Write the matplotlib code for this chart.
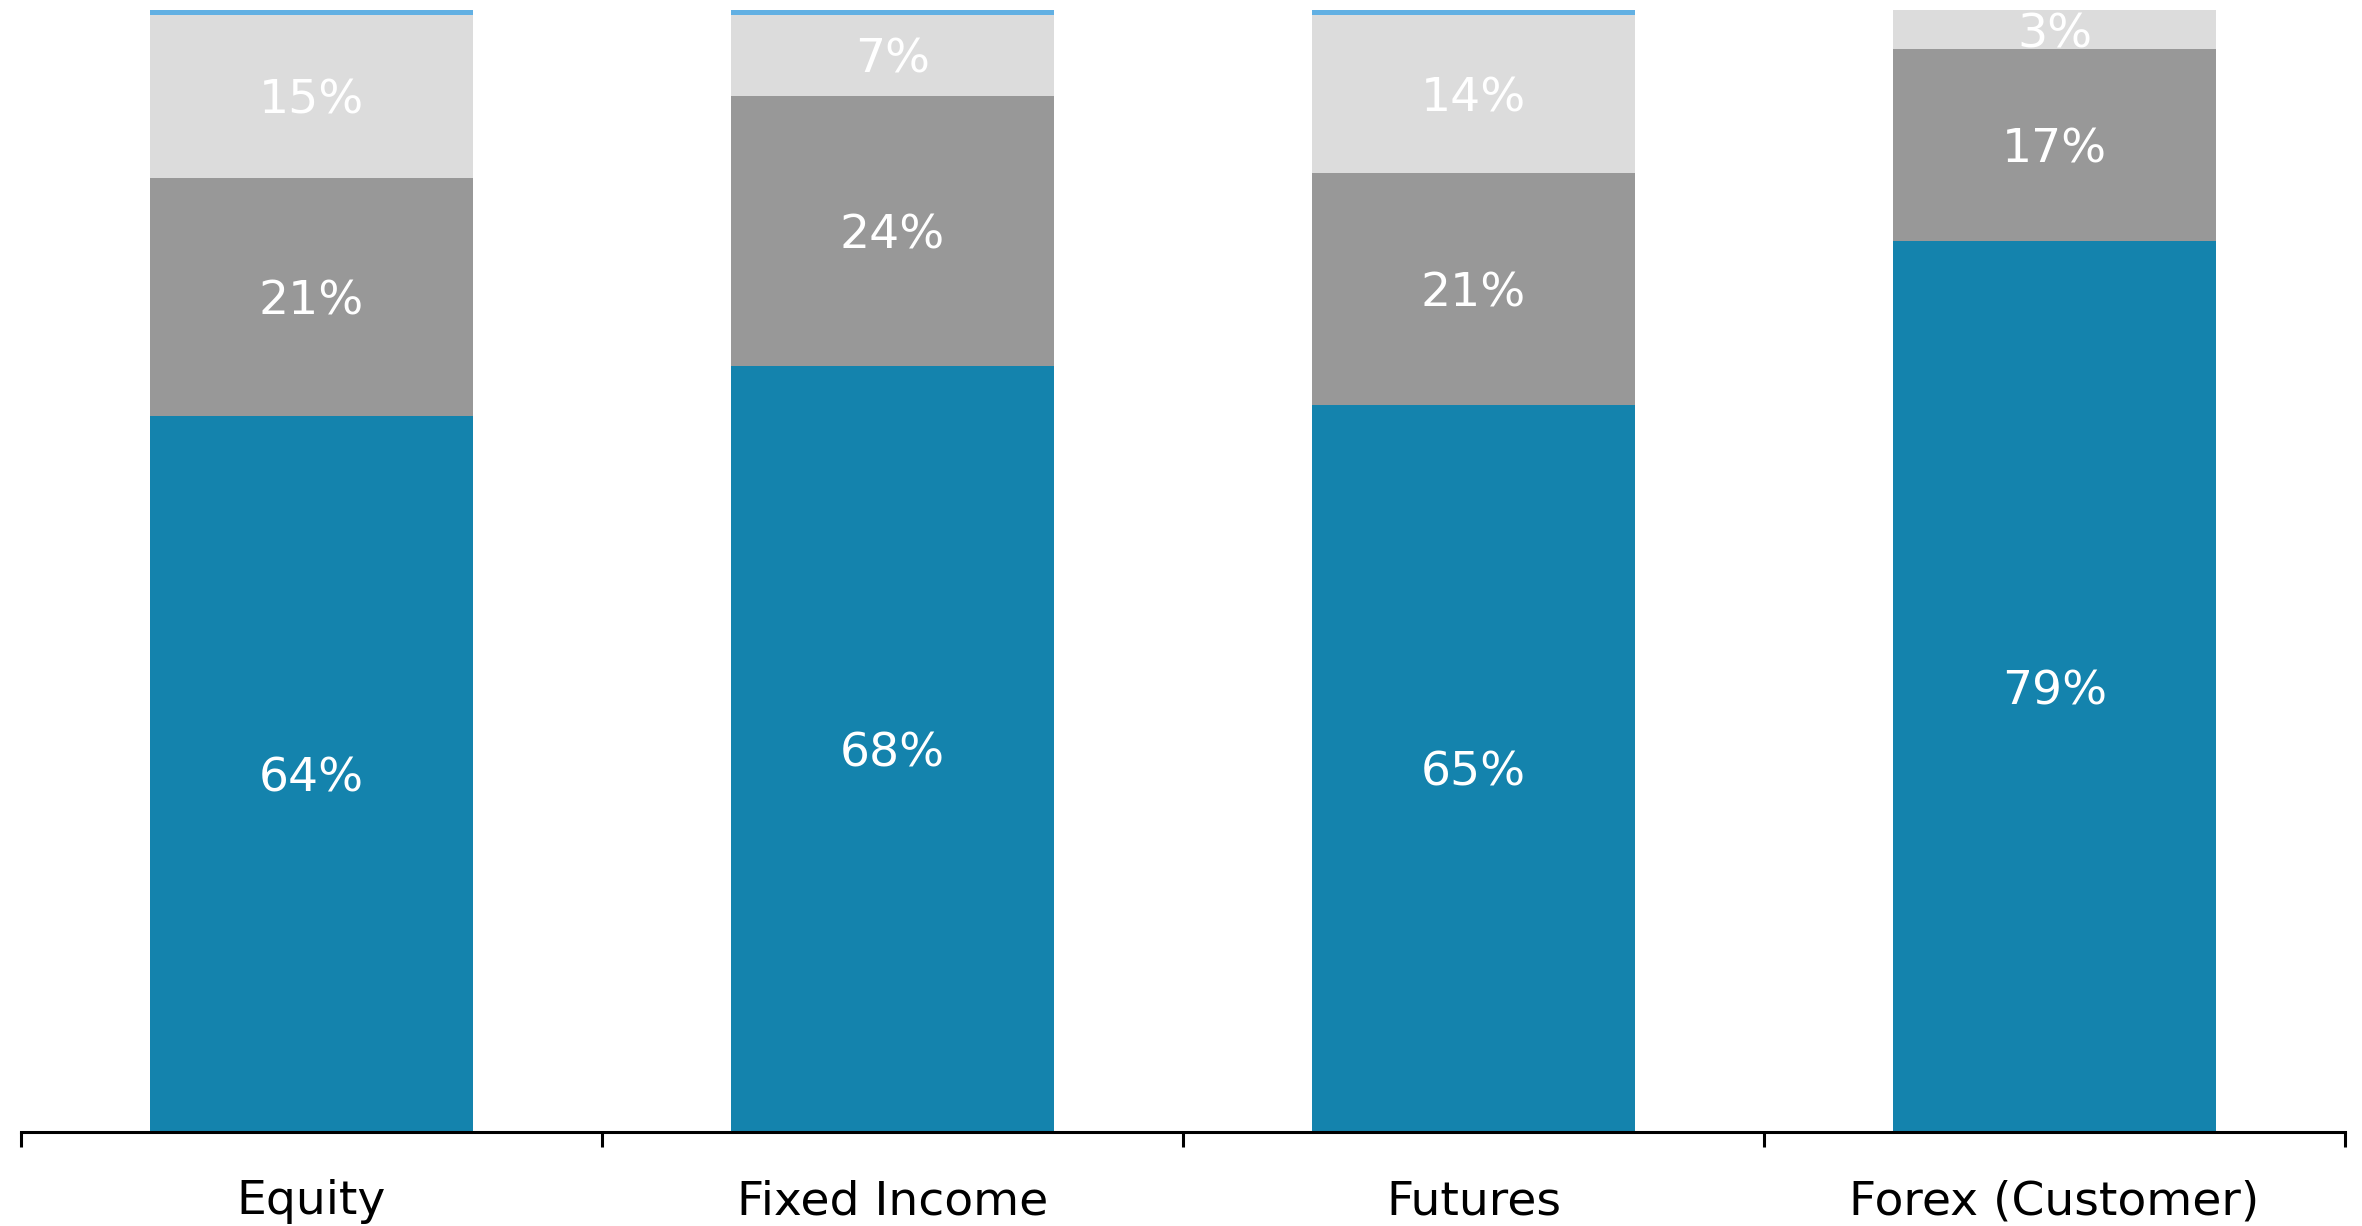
import numpy as np
import matplotlib
matplotlib.use("Agg")
import matplotlib.pyplot as plt

# share of volume per asset class
categories = ["Equity", "Fixed Income", "Futures", "Forex (Customer)"]
seg1 = [63.8, 68.3, 64.8, 79.4]   # blue
seg2 = [21.2, 24.0, 20.7, 17.1]   # dark grey
seg3 = [14.6, 7.3, 14.1, 3.5]     # light grey
seg4 = [0.4, 0.4, 0.4, 0.0]       # thin light blue cap
labels1 = ["64%", "68%", "65%", "79%"]
labels2 = ["21%", "24%", "21%", "17%"]
labels3 = ["15%", "7%", "14%", "3%"]

colors = ["#1483ad", "#989898", "#dcdcdc", "#62b0e3"]

fig = plt.figure(figsize=(23.62, 12.26), dpi=100)
ax = fig.add_axes([0.0089, 0.0767, 0.9839, 0.9151])

x = np.arange(len(categories))
w = 0.555
bottom = np.zeros(len(categories))
for vals, labs, col in [(seg1, labels1, colors[0]), (seg2, labels2, colors[1]),
                        (seg3, labels3, colors[2]), (seg4, None, colors[3])]:
    vals = np.array(vals)
    ax.bar(x, vals, w, bottom=bottom, color=col, linewidth=0)
    if labs is not None:
        for xi, b, v, t in zip(x, bottom, vals, labs):
            ax.text(xi, b + v / 2, t, ha="center", va="center_baseline",
                    color="white", fontsize=34)
    bottom = bottom + vals

ax.set_xlim(-0.5, len(categories) - 0.5)
ax.set_ylim(0, 100)

for s in ["top", "right", "left"]:
    ax.spines[s].set_visible(False)
ax.spines["bottom"].set_linewidth(2.2)
ax.spines["bottom"].set_color("black")
ax.set_yticks([])

ax.set_xticks(x)
ax.set_xticklabels(categories, fontsize=34)
ax.tick_params(axis="x", which="major", length=0, pad=34)
ax.set_xticks(np.arange(-0.5, len(categories)), minor=True)
ax.tick_params(axis="x", which="minor", length=11, width=2.2, direction="out")

fig.savefig("out.png", dpi=100)
